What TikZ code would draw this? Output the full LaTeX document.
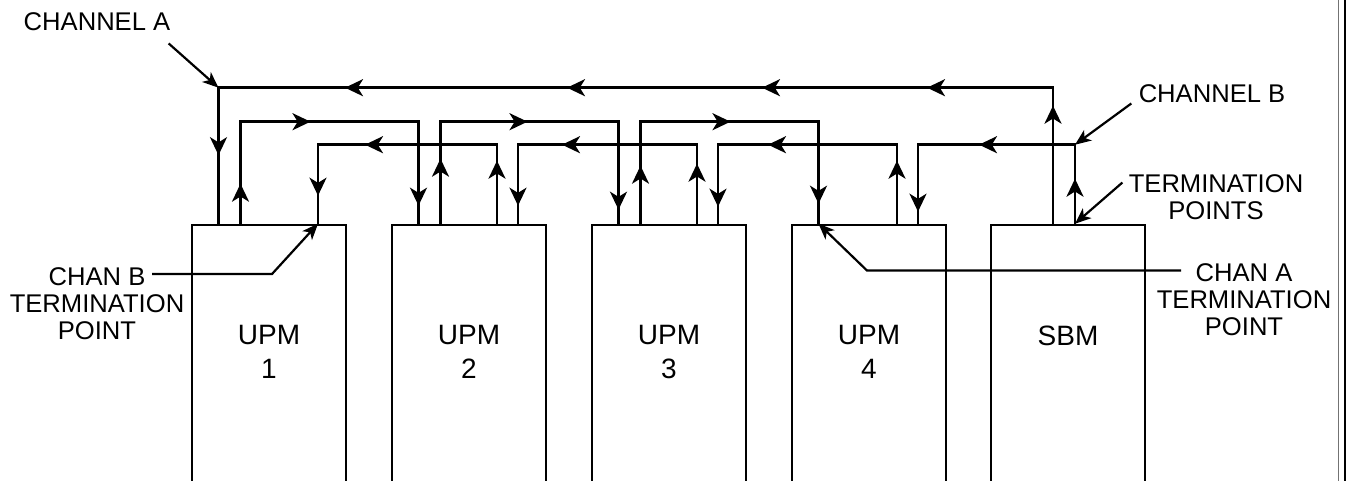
\documentclass[tikz,border=0pt]{standalone}
\usepackage{fontspec}
\setmainfont{Liberation Sans}
\usetikzlibrary{arrows.meta,calc,decorations.markings}
\tikzset{flow/.tip={Stealth[length=9pt,width=8.5pt,inset=2.6pt]},
         pointer/.tip={Stealth[length=8pt,width=6.5pt,inset=2.2pt]}}

\begin{document}
\begin{tikzpicture}[x=0.5pt,y=-0.5pt,
   box/.style={draw,line width=1.3pt,minimum width=77pt,minimum height=135pt,inner sep=0pt},
   boxlbl/.style={font=\fontsize{14}{17}\selectfont,align=center},
   lbl/.style={font=\fontsize{12.8}{13.5}\selectfont,align=center,inner sep=0pt},
   wire/.style={line width=1.3pt},
   lead/.style={line width=1.1pt,-{pointer}},
   tipat/.style={postaction={decorate,decoration={markings,mark=at position #1 with {\arrow{flow}}}}}]
  \useasboundingbox (0,0) rectangle (1349,481);
  \clip (0,0) rectangle (1349,481);
  \fill[white] (0,0) rectangle (1349,481);
  % modules
  \foreach \n/\x in {1/269,2/469,3/669,4/869}{
    \node[box] (U\n) at (\x,360) {};
    \node[boxlbl] (L\n) at (\x,352) {UPM\\\n};
    \coordinate (U\n-ai) at ($(U\n.north)+(-50.5,0)$);
    \coordinate (U\n-ao) at ($(U\n.north)+(-28.5,0)$);
    \coordinate (U\n-bo) at ($(U\n.north)+(28,0)$);
    \coordinate (U\n-bi) at ($(U\n.north)+(49,0)$);
  }
  \node[box] (SBM) at (1068,360) {};
  \node[boxlbl] (LS) at (1068,336) {SBM};
  \coordinate (S-ao) at ($(SBM.north)+(-15,0)$);
  \coordinate (S-bo) at ($(SBM.north)+(7,0)$);
  % channel A
  \draw[wire,tipat=59pt,tipat=131pt,tipat=213.5pt,tipat=311pt,tipat=422pt,tipat=519pt]
    (S-ao) -- ++(0,-136) coordinate (Atop) -| (U1-ai);
  \coordinate (Acorner) at (U1-ai |- Atop);
  \draw[wire,tipat=20pt,tipat=86pt,tipat=182pt] (U1-ao) -- ++(0,-102) -| (U2-ai);
  \draw[wire,tipat=32.5pt,tipat=94.5pt,tipat=184pt] (U2-ao) -- ++(0,-102) -| (U3-ai);
  \draw[wire,tipat=29pt,tipat=96pt,tipat=181pt] (U3-ao) -- ++(0,-102) -| (U4-ai);
  % channel B
  \draw[wire,tipat=22.5pt,tipat=87.5pt,tipat=151.5pt]
    (S-bo) -- ++(0,-79) coordinate (Bcorner) -| (U4-bi);
  \draw[wire,tipat=31.5pt,tipat=104pt,tipat=160pt] (U4-bo) -- ++(0,-79) -| (U3-bi);
  \draw[wire,tipat=30pt,tipat=107pt,tipat=159.5pt] (U3-bo) -- ++(0,-79) -| (U2-bi);
  \draw[wire,tipat=31.5pt,tipat=105.5pt,tipat=154.5pt] (U2-bo) -- ++(0,-79) -| (U1-bi);
  % labels
  \node[lbl] (chA) at (97,22) {CHANNEL A};
  \node[lbl] (chB) at (1212,94) {CHANNEL B};
  \node[lbl] (tp) at (1216,197.5) {TERMINATION\\POINTS};
  \node[lbl] (cbt) at (97,303.5) {CHAN B\\TERMINATION\\POINT};
  \node[lbl] (cat) at (1244,300) {CHAN A\\TERMINATION\\POINT};
  \draw[lead] (chA.south east) ++(-2,12) -- (Acorner);
  \draw[lead] (chB.south west) ++(-7,0) -- (Bcorner);
  \draw[lead] (tp.north west) ++(-6,8) -- (S-bo);
  \draw[lead] (cbt.north) ++(55,7) -- ++(120,0) -- (U1-bi);
  \draw[lead] (cat.north) ++(-63,7) -- ++(-314,0) -- (U4-ai);
  % page edge
  \draw[line width=0.5pt,black!55] (1338.5,0) -- (1338.5,481);
  \draw[line width=1pt] (1345,0) -- (1345,481);
\end{tikzpicture}
\end{document}
